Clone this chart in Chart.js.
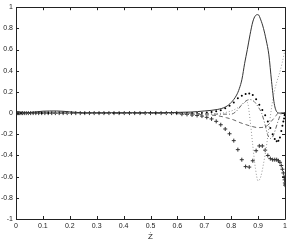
<!DOCTYPE html>
<html>
<head>
<meta charset="utf-8">
<script src="https://cdn.jsdelivr.net/npm/chart.js@4"></script>
<style>
html,body{margin:0;padding:0;background:#fff;}
#wrap{width:291px;height:242px;}
</style>
</head>
<body>
<div id="wrap"><canvas id="c" width="291" height="242"></canvas></div>
<script>
// ---- data ----
const xTicks = [0,0.1,0.2,0.3,0.4,0.5,0.6,0.7,0.8,0.9,1];
const yTicks = [-1,-0.8,-0.6,-0.4,-0.2,0,0.2,0.4,0.6,0.8,1];
const xLabel = 'Ż';

// collocation grid of the marker series
const zGrid = [0,0.0004,0.0015,0.0035,0.0062,0.0096,0.0138,0.0188,0.0245,0.0309,0.0381,0.0459,0.0545,0.0638,0.0737,0.0843,0.0955,0.1073,0.1198,0.1329,0.1464,0.1606,0.1753,0.1904,0.2061,0.2222,0.2388,0.2557,0.273,0.2907,0.3087,0.3269,0.3455,0.3643,0.3833,0.4025,0.4218,0.4412,0.4608,0.4803,0.5,
0.5197,0.5392,0.5588,0.5782,0.5975,0.6167,0.6357,0.6545,0.6731,0.6913,0.7093,0.727,0.7443,0.7612,0.7778,0.7939,0.8096,0.8247,0.8394,0.8536,0.8671,0.8802,0.8927,0.9045,0.9157,0.9263,0.9362,0.9455,0.9541,0.9619,0.9691,0.9755,0.9812,0.9862,0.9904,0.9938,0.9965,0.9985,0.9996,1];

// '+' markers
const plusVals = [0,0,0,0,0,0,0,0,0,0,0,0,0,0,0,0,0,0,0,0,0,0,0,0,0,0,0,0,0,0,0,0,0,0,0,0,0,0,0,0,0,0,0,0,0,0,
-0.01,-0.012,-0.018,-0.022,-0.028,-0.04,-0.055,-0.078,-0.11,-0.15,-0.195,-0.26,-0.345,-0.44,-0.505,-0.51,-0.45,-0.355,-0.31,-0.31,-0.35,-0.40,-0.43,-0.44,-0.44,-0.44,-0.45,-0.465,-0.495,-0.53,-0.565,-0.6,-0.63,-0.66,-0.68];

// '.' markers
const dotVals = [0,0,0,0,0,0,0,0,0,0,0,0,0,0,0,0,0,0,0,0,0,0,0,0,0,0,0,0,0,0,0,0,0,0,0,0,0,0,0,0,0,0,0,0,0,0,0,0,0,0,0,
0.005,0.01,0.018,0.028,0.045,0.07,0.10,0.14,0.165,0.18,0.185,0.17,0.13,0.08,0.03,-0.02,-0.08,-0.14,-0.2,-0.245,-0.265,-0.26,-0.23,-0.17,-0.12,-0.08,-0.05,-0.02,-0.01,0];

// solid line
const solidZ = [0,0.05,0.1,0.15,0.2,0.25,0.5,0.65,0.7,0.75,0.78,0.8,0.82,0.83,0.84,0.85,0.86,0.87,0.88,0.89,0.9,0.91,0.92,0.93,0.94,0.95,0.96,0.97,0.98,1];
const solidV = [0,0.005,0.018,0.02,0.012,0.003,0.004,0.01,0.02,0.035,0.06,0.1,0.17,0.23,0.32,0.47,0.6,0.74,0.86,0.92,0.93,0.88,0.8,0.69,0.55,0.3,0.09,0.01,0,0];

// fine dotted line
const dottedZ = [0,0.5,0.7,0.8,0.83,0.85,0.86,0.87,0.88,0.89,0.9,0.91,0.92,0.93,0.94,0.95,0.96,0.97,0.98,0.99,1];
const dottedV = [0,0,-0.01,0.02,0.06,0.1,0.1,-0.06,-0.3,-0.52,-0.64,-0.6,-0.48,-0.33,-0.14,0.05,0.2,0.3,0.38,0.48,0.6];

// dashed line
const dashedZ = [0,0.6,0.7,0.75,0.783,0.81,0.833,0.85,0.87,0.9,0.93,0.95,0.965,0.975,1];
const dashedV = [0,-0.005,-0.015,-0.025,-0.044,-0.065,-0.09,-0.105,-0.121,-0.137,-0.125,-0.075,-0.03,0,0];

// dash-dot line
const dashdotZ = [0,0.6,0.7,0.75,0.8,0.82,0.84,0.855,0.87,0.885,0.9,0.913,0.925,0.935,0.945,0.955,0.965,0.975,0.985,1];
const dashdotV = [0,0,-0.005,-0.01,-0.01,0.02,0.08,0.115,0.128,0.11,0.06,0,-0.1,-0.2,-0.24,-0.22,-0.15,-0.07,-0.01,0];

// ---- build ----
const pts = (xs, ys) => xs.map((x, i) => ({x: x, y: ys[i]}));
const fmt = v => String(parseFloat(Number(v).toFixed(1)));

const boxPlugin = {
  id: 'box',
  afterDatasetsDraw(chart) {
    const {ctx, chartArea: a, scales} = chart;
    ctx.save();
    ctx.strokeStyle = '#222';
    ctx.lineWidth = 1;
    ctx.beginPath();
    ctx.rect(Math.round(a.left) + 0.5, Math.round(a.top) + 0.5, Math.round(a.right - a.left), Math.round(a.bottom - a.top));
    ctx.stroke();
    const tl = 3;
    ctx.beginPath();
    xTicks.forEach(v => {
      const px = Math.round(scales.x.getPixelForValue(v)) + 0.5;
      ctx.moveTo(px, a.bottom); ctx.lineTo(px, a.bottom - tl);
      ctx.moveTo(px, a.top); ctx.lineTo(px, a.top + tl);
    });
    yTicks.forEach(v => {
      const py = Math.round(scales.y.getPixelForValue(v)) + 0.5;
      ctx.moveTo(a.left, py); ctx.lineTo(a.left + tl, py);
      ctx.moveTo(a.right, py); ctx.lineTo(a.right - tl, py);
    });
    ctx.stroke();
    ctx.restore();
  }
};

const lineCommon = {showLine: true, pointRadius: 0, borderWidth: 1, fill: false, cubicInterpolationMode: 'monotone'};

new Chart(document.getElementById('c'), {
  type: 'scatter',
  data: {
    datasets: [
      Object.assign({label: 'solid', data: pts(solidZ, solidV), borderColor: '#333'}, lineCommon),
      Object.assign({label: 'dotted', data: pts(dottedZ, dottedV), borderColor: '#999', borderDash: [1, 2]}, lineCommon),
      Object.assign({label: 'dashed', data: pts(dashedZ, dashedV), borderColor: '#666', borderDash: [4, 3]}, lineCommon),
      Object.assign({label: 'dashdot', data: pts(dashdotZ, dashdotV), borderColor: '#666', borderDash: [4, 2, 1, 2]}, lineCommon),
      {label: 'dots', data: pts(zGrid, dotVals), showLine: false, pointStyle: 'circle', pointRadius: 1, borderWidth: 0, backgroundColor: '#000', borderColor: '#000'},
      {label: 'plus', data: pts(zGrid, plusVals), showLine: false, pointStyle: 'cross', pointRadius: 2, borderWidth: 1, borderColor: '#333', backgroundColor: '#333'}
    ]
  },
  options: {
    responsive: false,
    animation: false,
    devicePixelRatio: 1,
    layout: {padding: {top: 5, right: 6, left: 0, bottom: 0}},
    plugins: {legend: {display: false}, tooltip: {enabled: false}},
    scales: {
      x: {
        type: 'linear', min: 0, max: 1,
        afterBuildTicks: s => { s.ticks = xTicks.map(v => ({value: v})); },
        ticks: {callback: fmt, font: {family: 'Liberation Sans', size: 7}, color: '#222', padding: 3, maxRotation: 0, autoSkip: false},
        grid: {display: false, drawTicks: false},
        border: {display: false},
        title: {display: true, text: xLabel, font: {family: 'Liberation Sans', size: 8}, color: '#222', padding: {top: 1, bottom: 0}},
        afterFit: s => { s.height = 23; }
      },
      y: {
        type: 'linear', min: -1, max: 1,
        afterBuildTicks: s => { s.ticks = yTicks.map(v => ({value: v})); },
        ticks: {callback: fmt, font: {family: 'Liberation Sans', size: 7}, color: '#222', padding: 3, autoSkip: false},
        grid: {display: false, drawTicks: false},
        border: {display: false},
        afterFit: s => { s.width = 16; }
      }
    }
  },
  plugins: [boxPlugin]
});
</script>
</body>
</html>
